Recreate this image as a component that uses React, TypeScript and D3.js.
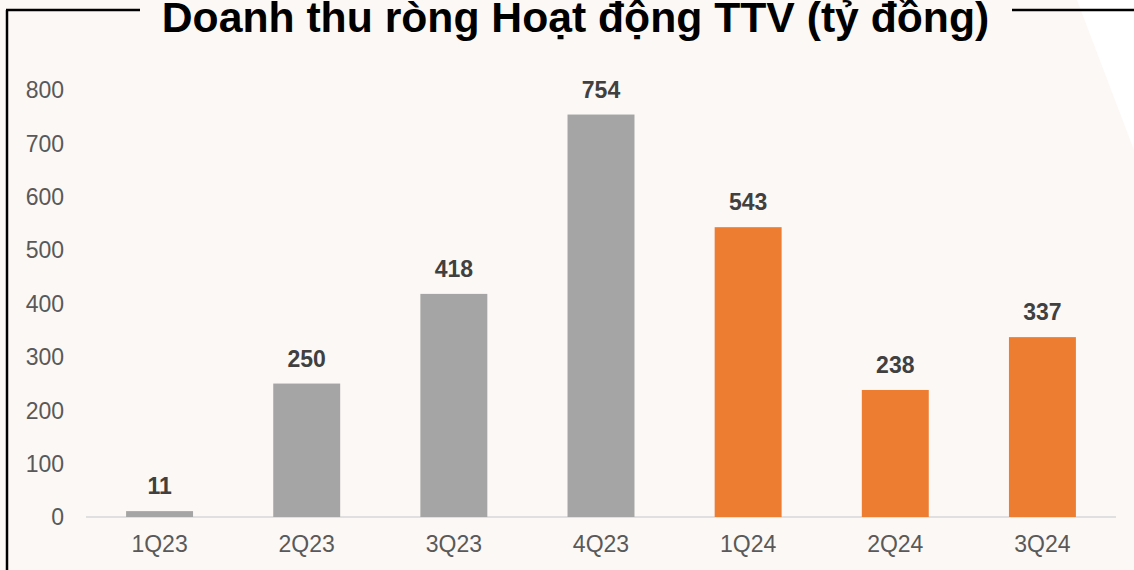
import React from "react";
import * as d3 from "d3";

const categories = ["1Q23", "2Q23", "3Q23", "4Q23", "1Q24", "2Q24", "3Q24"];
const values = [11, 250, 418, 754, 543, 238, 337];
const highlight = [false, false, false, false, true, true, true];
const yTicks = [0, 100, 200, 300, 400, 500, 600, 700, 800];
const title = "Doanh thu ròng Hoạt động TTV (tỷ đồng)";

const W = 1134;
const H = 570;

export default function App() {
  const x = d3.scaleBand<string>().domain(categories).range([86, 1116]).paddingInner(0.545).paddingOuter(0.2725);
  const y = d3.scaleLinear().domain([0, 800]).range([517, 90]);
  const font = "Arial, 'Liberation Sans', Helvetica, sans-serif";
  return (
    <svg width={W} height={H} style={{ position: "absolute", left: 0, top: 0 }} fontFamily={font}>
      <rect x={0} y={0} width={W} height={H} fill="#fcf8f5" />
      <polygon points={`1077,0 ${W},0 ${W},150`} fill="#ffffff" />
      <line x1={7} y1={10} x2={7} y2={H} stroke="#000" strokeWidth={2.5} />
      <line x1={6} y1={10} x2={140} y2={10} stroke="#000" strokeWidth={2.5} />
      <line x1={1012} y1={10} x2={W} y2={10} stroke="#000" strokeWidth={2.5} />
      <text x={575.5} y={32} textAnchor="middle" fontSize={42.7} fontWeight="bold" fill="#000">
        {title}
      </text>
      {yTicks.map((t) => (
        <text key={t} x={64} y={y(t)} dy="0.36em" textAnchor="end" fontSize={23} fill="#595959">
          {t}
        </text>
      ))}
      <line x1={86} x2={1116} y1={y(0)} y2={y(0)} stroke="#d9d9d9" strokeWidth={1.5} />
      {categories.map((c, i) => (
        <g key={c}>
          <rect
            x={x(c)}
            y={y(values[i])}
            width={x.bandwidth()}
            height={y(0) - y(values[i])}
            fill={highlight[i] ? "#ed7d31" : "#a5a5a5"}
          />
          <text
            x={(x(c) as number) + x.bandwidth() / 2}
            y={y(values[i]) - 17}
            textAnchor="middle"
            fontSize={23}
            fontWeight="bold"
            fill="#404040"
          >
            {values[i]}
          </text>
          <text
            x={(x(c) as number) + x.bandwidth() / 2}
            y={552}
            textAnchor="middle"
            fontSize={23}
            fill="#595959"
          >
            {c}
          </text>
        </g>
      ))}
    </svg>
  );
}
